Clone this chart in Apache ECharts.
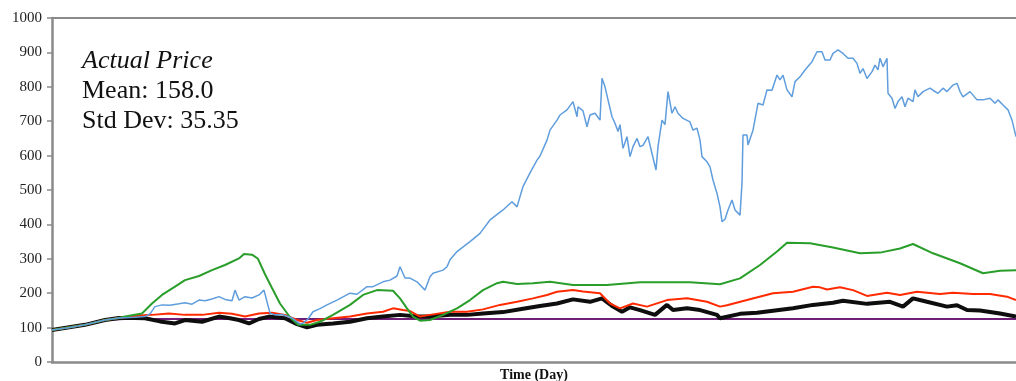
<!DOCTYPE html>
<html><head><meta charset="utf-8">
<script src="https://cdn.jsdelivr.net/npm/echarts@6/dist/echarts.min.js"></script>
<style>html,body{margin:0;padding:0;background:#fff}#c{width:1016px;height:381px}</style>
</head><body><div id="c"></div>
<script>
const yTicks = [0,100,200,300,400,500,600,700,800,900,1000];
const annotation = ['Actual Price', 'Mean: 158.0', 'Std Dev: 35.35'];

const blueDay = [0,18,33,53,67,83,93,98,103,110,118,127,133,140,147,153,160,167,173,180,183,187,193,200,207,212,215,218,223,230,240,248,251,256,261,268,275,285,298,305,315,321,331,338,345,348,353,358,365,373,378,381,391,395,398,405,418,428,438,451,460,465,471,478,485,488,495,498,505,508,515,521,525,526,531,535,538,543,548,550,553,556,560,563,566,568,571,575,578,581,585,588,591,596,600,604,606,610,613,616,620,623,626,631,638,641,645,648,650,655,658,661,665,668,670,673,676,680,683,688,690,691,695,696,701,706,711,715,720,725,728,731,735,740,743,748,753,760,765,770,773,778,781,786,791,796,801,805,808,811,815,820,823,826,828,831,835,836,840,843,846,850,853,856,861,863,866,871,878,881,886,891,895,901,905,908,911,918,925,931,938,943,946,951,956,960,964];
const blueVal = [93,100,108,122,128,130,132,140,161,166,165,169,172,168,180,178,183,190,182,178,209,180,190,186,195,209,175,142,137,138,128,110,113,125,146,155,166,180,200,197,219,219,233,238,250,277,244,244,233,209,248,258,267,277,297,321,350,374,413,442,466,451,510,550,587,599,645,674,703,718,733,757,713,742,730,684,718,723,703,825,800,762,713,694,670,690,621,655,597,626,650,626,630,655,606,558,626,703,690,786,723,742,723,708,698,674,680,645,597,582,567,529,490,451,408,415,442,471,442,427,520,660,660,631,674,752,747,791,790,834,820,834,791,771,815,829,849,873,902,902,878,878,897,907,897,883,883,868,839,853,824,844,863,849,883,858,883,781,767,737,757,771,742,767,757,791,771,786,796,790,781,796,786,805,810,786,771,786,762,762,767,752,762,747,733,703,655];

const greenDay = [0,33,53,67,73,90,100,110,123,133,147,160,173,187,192,200,206,213,220,228,238,246,258,268,281,298,311,325,341,348,355,361,368,378,391,405,418,431,445,451,465,481,498,521,555,588,638,668,688,708,725,735,758,781,808,828,848,861,881,908,931,948,964];
const greenVal = [93,108,122,128,132,141,170,195,219,238,250,267,282,301,314,312,300,255,215,170,130,108,108,117,137,166,195,209,207,185,156,132,120,122,137,156,180,209,229,233,227,229,233,224,224,232,232,226,243,282,321,347,345,333,316,318,330,343,316,287,258,265,267];

const redDay = [0,33,53,67,78,88,100,117,133,150,167,180,193,207,220,233,245,255,265,281,298,315,331,341,351,358,368,378,398,415,431,448,465,481,495,505,521,531,548,558,568,581,595,615,635,655,668,675,695,721,741,761,768,775,788,801,815,835,848,865,888,901,921,938,955,964];
const redVal = [93,108,122,128,132,135,137,141,137,137,143,140,132,141,143,137,122,114,122,127,132,141,146,156,151,148,132,137,146,146,153,166,175,185,195,204,209,205,200,170,156,170,161,180,185,175,161,165,180,200,204,219,217,211,217,209,192,201,195,204,198,201,198,198,190,180];

const blackDay = [0,33,53,67,83,93,108,123,133,150,167,178,187,197,207,217,233,245,255,265,281,298,315,331,348,365,378,398,415,431,451,471,488,505,521,538,550,561,570,578,588,603,615,621,635,648,665,668,688,705,721,741,761,781,791,815,838,851,861,875,895,905,915,928,948,964];
const blackVal = [93,108,122,128,128,127,118,112,122,117,132,127,122,112,125,132,127,110,101,108,112,117,127,132,137,132,132,137,137,141,145,155,163,170,182,175,185,161,146,159,151,137,166,151,156,151,137,127,140,143,149,156,166,172,178,169,175,161,185,175,161,165,151,150,141,132];

const purpleDay = [0,33,53,73,964];
const purpleVal = [93,108,122,125,125];

const pairs = (d, v) => d.map((x, i) => [x, v[i]]);
const serif = 'Liberation Serif, Times New Roman, serif';
const axisGray = '#8a8a8a';

const chart = echarts.init(document.getElementById('c'), null, {renderer: 'canvas'});
const mk = (name, d, v, color, w, z) => ({
  name, type: 'line', data: pairs(d, v), showSymbol: false, symbol: 'none',
  lineStyle: {color, width: w}, z, animation: false, silent: true
});
chart.setOption({
  animation: false,
  grid: {left: 52, right: 0, top: 18, bottom: 19, containLabel: false, outerBoundsMode: 'none'},
  xAxis: [{
    type: 'value', min: 0, max: 964, position: 'bottom',
    axisLine: {show: true, lineStyle: {color: axisGray, width: 2.5}},
    axisTick: {show: false}, axisLabel: {show: false}, splitLine: {show: false},
    name: 'Time (Day)', nameLocation: 'middle', nameGap: 6,
    nameTextStyle: {fontFamily: serif, fontWeight: 'bold', fontSize: 14, color: '#111', verticalAlign: 'top'}
  }, {
    type: 'value', min: 0, max: 964, position: 'top',
    axisLine: {show: true, lineStyle: {color: axisGray, width: 2}},
    axisTick: {show: false}, axisLabel: {show: false}, splitLine: {show: false}
  }],
  yAxis: {
    type: 'value', min: 0, max: 1000, interval: 100,
    axisLine: {show: true, lineStyle: {color: axisGray, width: 2.5}},
    axisTick: {show: true, length: 5, lineStyle: {color: axisGray, width: 1.5}},
    splitLine: {show: false},
    axisLabel: {fontFamily: serif, fontSize: 15, color: '#222', margin: 10,
      formatter: v => yTicks.includes(v) ? String(v) : ''}
  },
  series: [
    mk('Purple', purpleDay, purpleVal, '#701f78', 2, 1),
    mk('Black', blackDay, blackVal, '#0e0e0e', 4, 2),
    mk('Red', redDay, redVal, '#ff2a00', 2, 3),
    mk('Green', greenDay, greenVal, '#2a9e2a', 2, 4),
    mk('Actual Price', blueDay, blueVal, '#5f9ddd', 1.5, 5)
  ],
  graphic: [
    {type: 'text', left: 82, top: 48, style: {text: annotation[0], font: 'italic 26px ' + serif, fill: '#111'}},
    {type: 'text', left: 82, top: 78, style: {text: annotation[1], font: '26px ' + serif, fill: '#111'}},
    {type: 'text', left: 82, top: 108, style: {text: annotation[2], font: '26px ' + serif, fill: '#111'}}
  ]
});
</script></body></html>
